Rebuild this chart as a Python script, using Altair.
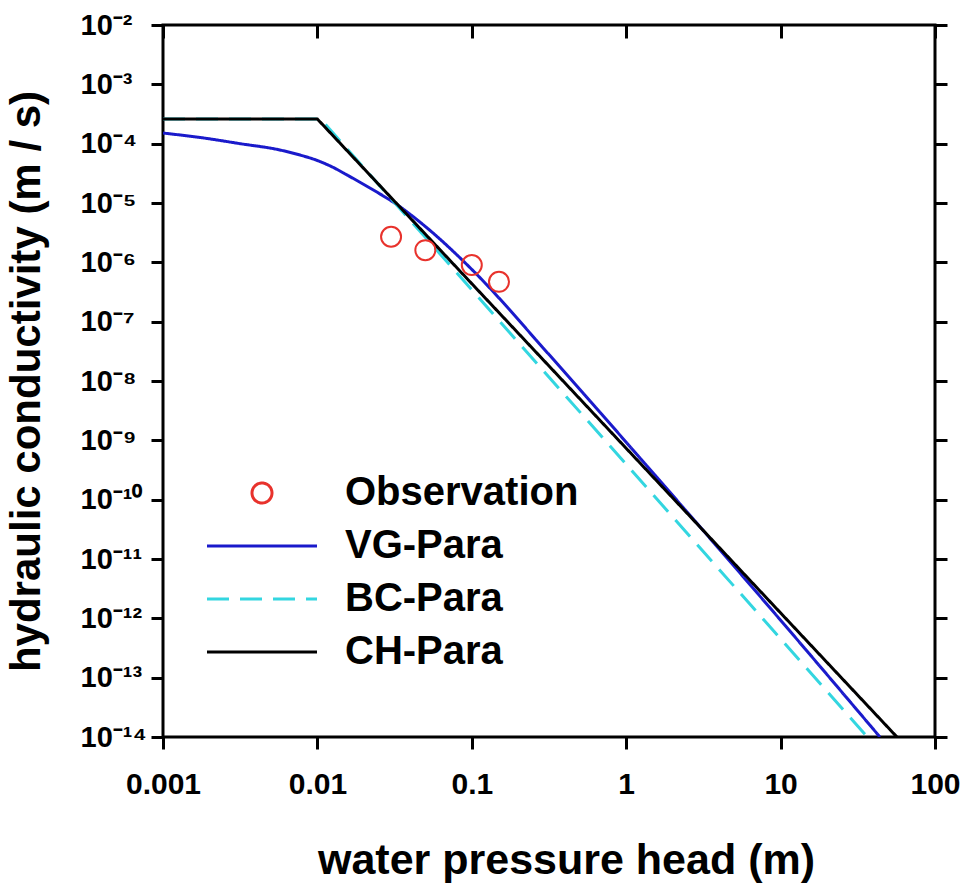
import json
import altair as alt
import pandas as pd

FONT = "Liberation Sans"

# ---- data ----
series_names = ["Observation", "VG-Para", "BC-Para", "CH-Para"]
series_colors = ["#e8322c", "#1a1acb", "#33d6e0", "#000000"]
series_dashes = [[1, 0], [1, 0], [22, 11], [1, 0]]
legend_shapes = ["circle", "stroke", "stroke", "stroke"]
legend_sizes = [400, 12100, 12100, 12100]

obs_h = [0.03, 0.05, 0.1, 0.15]
obs_K = [2.7e-6, 1.6e-6, 9.0e-7, 4.7e-7]

vg_h = [0.001, 0.00178, 0.00316, 0.00562, 0.00794, 0.01, 0.0126, 0.0158,
        0.0251, 0.0316, 0.0501, 0.1, 0.316, 1.0, 3.16, 10.0, 44.0]
vg_K = [1.51e-4, 1.26e-4, 1.0e-4, 7.9e-5, 6.3e-5, 5.2e-5, 4.0e-5, 2.9e-5,
        1.45e-5, 1.0e-5, 4.0e-6, 7.6e-7, 2.8e-8, 9.3e-10, 3.0e-11, 9.3e-13, 1.0e-14]

bc_h = [0.001, 0.0105, 36.5]
bc_K = [2.6e-4, 2.6e-4, 1.0e-14]

ch_h = [0.001, 0.01, 56.7]
ch_K = [2.6e-4, 2.6e-4, 1.0e-14]

x_ticks = [0.001, 0.01, 0.1, 1, 10, 100]
x_labels = ["0.001", "0.01", "0.1", "1", "10", "100"]
y_ticks = [1e-14, 1e-13, 1e-12, 1e-11, 1e-10, 1e-9, 1e-8, 1e-7,
           1e-6, 1e-5, 1e-4, 1e-3, 1e-2]
y_labels = ["10⁻¹⁴", "10⁻¹³", "10⁻¹²", "10⁻¹¹", "10⁻¹⁰", "10⁻⁹", "10⁻⁸",
            "10⁻⁷", "10⁻⁶", "10⁻⁵", "10⁻⁴", "10⁻³", "10⁻²"]

x_title = "water pressure head (m)"
y_title = "hydraulic conductivity (m / s)"

# ---- tables ----
df_obs = pd.DataFrame({"h": obs_h, "K": obs_K, "series": "Observation"})
df_vg = pd.DataFrame({"h": vg_h, "K": vg_K, "series": "VG-Para"})
df_bc = pd.DataFrame({"h": bc_h, "K": bc_K, "series": "BC-Para"})
df_ch = pd.DataFrame({"h": ch_h, "K": ch_K, "series": "CH-Para"})

xs = alt.Scale(type="log", domain=[x_ticks[0], x_ticks[-1]], nice=False)
ys = alt.Scale(type="log", domain=[y_ticks[0], y_ticks[-1]], nice=False)
cs = alt.Scale(domain=series_names, range=series_colors)
ds = alt.Scale(domain=series_names, range=series_dashes)
shs = alt.Scale(domain=series_names, range=legend_shapes)
szs = alt.Scale(type="ordinal", domain=series_names, range=legend_sizes)

x_expr = json.dumps(x_labels) + "[round(log(datum.value)/LN10)+3]"
y_expr = json.dumps(y_labels, ensure_ascii=False) + "[round(log(datum.value)/LN10)+14]"

bottom_axis = alt.Axis(
    orient="bottom", values=x_ticks, labelExpr=x_expr, tickSize=12,
    labelFontSize=30, labelPadding=20, labelFlush=False, labelOverlap=False,
    title=x_title, titleFontSize=43, titleX=403, titleY=136,
    titleBaseline="alphabetic", titleAlign="center",
)
left_axis = alt.Axis(
    orient="left", values=y_ticks, labelExpr=y_expr, tickSize=12,
    labelFontSize=29, labelAlign="left", labelBaseline="middle",
    labelPadding=71, labelFlush=False, labelOverlap=False,
    title=y_title, titleFontSize=42, titleAngle=270, titleX=-124, titleY=356,
    titleBaseline="alphabetic", titleAlign="center",
)
top_axis = alt.Axis(orient="top", values=x_ticks, labels=False, tickSize=13,
                    offset=-13, title=None)
right_axis = alt.Axis(orient="right", values=y_ticks, labels=False,
                      tickSize=12, title=None)


def line_layer(df, with_axes, interp):
    return alt.Chart(df).mark_line(strokeWidth=3, clip=True, interpolate=interp).encode(
        x=alt.X("h:Q", scale=xs, axis=bottom_axis if with_axes else None),
        y=alt.Y("K:Q", scale=ys, axis=left_axis if with_axes else None),
        color=alt.Color("series:N", scale=cs, title=None),
        strokeDash=alt.StrokeDash("series:N", scale=ds, title=None),
    )


vg = line_layer(df_vg, True, "monotone")
bc = line_layer(df_bc, False, "linear")
ch = line_layer(df_ch, False, "linear")

obs = alt.Chart(df_obs).mark_point(filled=False, strokeWidth=2, opacity=1).encode(
    x=alt.X("h:Q", scale=xs, axis=top_axis),
    y=alt.Y("K:Q", scale=ys, axis=right_axis),
    color=alt.Color("series:N", scale=cs, title=None),
    shape=alt.Shape("series:N", scale=shs, title=None),
    size=alt.Size("series:N", scale=szs, title=None),
)

chart = (
    alt.layer(vg, bc, ch, obs)
    .resolve_axis(x="independent", y="independent")
    .properties(
        width=772, height=712,
        autosize=alt.AutoSizeParams(type="none"),
        padding={"left": 163, "top": 25, "right": 43, "bottom": 152},
    )
    .configure_view(stroke="black", strokeWidth=3)
    .configure_axis(
        domain=False, grid=False, tickColor="black", tickWidth=3,
        labelColor="black", titleColor="black", labelFont=FONT, titleFont=FONT,
        labelFontWeight="bold", titleFontWeight="bold",
    )
    .configure_legend(
        orient="none", legendX=42.5, legendY=448, padding=0,
        clipHeight=40, rowPadding=13, labelOffset=26.5, labelLimit=0,
        labelFont=FONT, labelFontSize=40, labelFontWeight="bold",
        labelColor="black", symbolStrokeWidth=3, labelBaseline="middle",
    )
)

chart.save("out.html", embed_options={"renderer": "svg", "actions": False})
